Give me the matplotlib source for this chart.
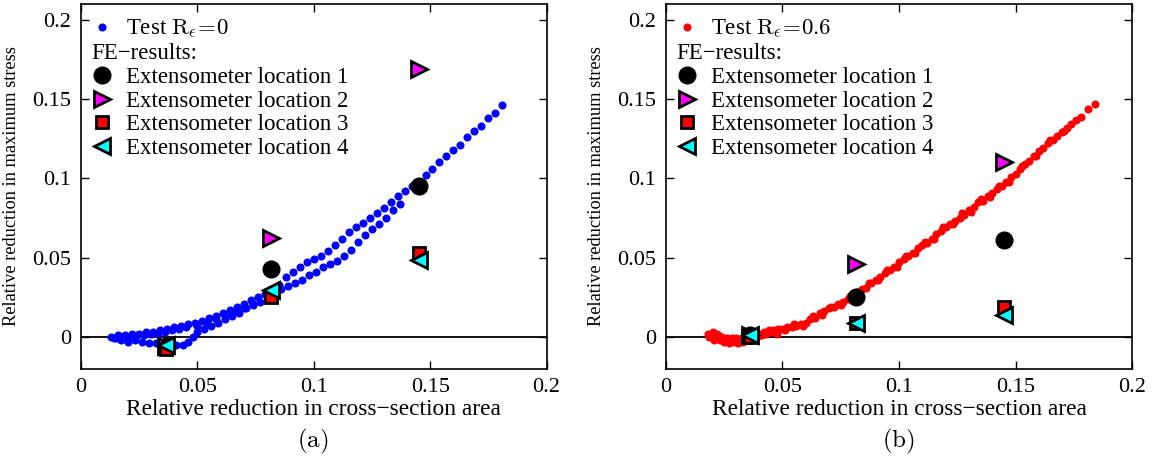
import numpy as np
import matplotlib.pyplot as plt
from matplotlib.lines import Line2D

plt.rcParams['font.family'] = ['Liberation Serif', 'DejaVu Serif']
plt.rcParams['mathtext.fontset'] = 'cm'
plt.rcParams['font.size'] = 16

# ---- test data, panel (a): R_eps = 0 (loop, two branches + dense start) ----
a_upper_x = [0.013, 0.016, 0.019, 0.022, 0.025, 0.028, 0.031, 0.034, 0.037, 0.040,
             0.043, 0.046, 0.049, 0.052, 0.055, 0.058, 0.061, 0.064, 0.067, 0.070,
             0.073, 0.076, 0.079, 0.082, 0.085, 0.088, 0.091, 0.094, 0.097, 0.100,
             0.103, 0.106, 0.109, 0.112, 0.115, 0.118, 0.121, 0.124, 0.127, 0.130,
             0.133, 0.136, 0.139, 0.142, 0.145, 0.148, 0.151, 0.154, 0.157, 0.160,
             0.163, 0.166, 0.169, 0.172, 0.175, 0.178, 0.181]
a_upper_y = [0.000, 0.001, 0.001, 0.002, 0.002, 0.003, 0.003, 0.004, 0.005, 0.006,
             0.007, 0.008, 0.009, 0.010, 0.012, 0.013, 0.015, 0.017, 0.019, 0.021,
             0.023, 0.025, 0.027, 0.030, 0.033, 0.038, 0.041, 0.044, 0.047, 0.049,
             0.051, 0.054, 0.058, 0.062, 0.066, 0.069, 0.072, 0.075, 0.078, 0.081,
             0.085, 0.089, 0.092, 0.095, 0.098, 0.102, 0.106, 0.110, 0.114, 0.118,
             0.121, 0.126, 0.130, 0.133, 0.138, 0.141, 0.146]
a_lower_x = [0.014, 0.017, 0.020, 0.023, 0.026, 0.029, 0.032, 0.035, 0.038, 0.041,
             0.044, 0.046, 0.048, 0.050, 0.053, 0.056, 0.059, 0.062, 0.065, 0.068,
             0.071, 0.074, 0.077, 0.080, 0.083, 0.086, 0.089, 0.092, 0.095, 0.098,
             0.101, 0.104, 0.107, 0.110, 0.113, 0.116, 0.119, 0.122, 0.125, 0.128,
             0.131, 0.134, 0.137]
a_lower_y = [-0.001, -0.002, -0.003, -0.002, -0.003, -0.004, -0.004, -0.005, -0.005, -0.005,
             -0.005, -0.003, 0.000, 0.003, 0.005, 0.007, 0.009, 0.011, 0.013, 0.015,
             0.018, 0.020, 0.022, 0.025, 0.027, 0.030, 0.032, 0.034, 0.036, 0.039,
             0.041, 0.044, 0.046, 0.048, 0.051, 0.055, 0.060, 0.064, 0.068, 0.071,
             0.075, 0.080, 0.084]
a_mid_x = [0.015, 0.018, 0.021, 0.024, 0.027, 0.030, 0.033, 0.036, 0.039, 0.042,
           0.045, 0.050, 0.054, 0.058, 0.062, 0.066, 0.070, 0.074]
a_mid_y = [-0.001, 0.000, 0.000, 0.001, 0.001, 0.002, 0.002, 0.003, 0.004, 0.005,
           0.006, 0.007, 0.009, 0.011, 0.013, 0.016, 0.018, 0.021]

# ---- test data, panel (b): R_eps = 0.6 ----
b_x = [0.018, 0.019, 0.020, 0.021, 0.022, 0.023, 0.024, 0.025, 0.026, 0.027,
       0.028, 0.029, 0.030, 0.031, 0.032, 0.033, 0.034, 0.035, 0.036, 0.037,
       0.038, 0.039, 0.040, 0.041, 0.042, 0.043, 0.044, 0.045, 0.046, 0.047,
       0.048, 0.050, 0.052, 0.054, 0.056, 0.058, 0.060, 0.062, 0.064, 0.066,
       0.068, 0.070, 0.072, 0.074, 0.076, 0.078, 0.080, 0.082, 0.084, 0.086,
       0.088, 0.090, 0.092, 0.094, 0.096, 0.098, 0.100, 0.102, 0.104, 0.106,
       0.108, 0.110, 0.112, 0.114, 0.116, 0.118, 0.120, 0.122, 0.124, 0.126,
       0.128, 0.130, 0.132, 0.134, 0.136, 0.138, 0.140, 0.142, 0.144, 0.146,
       0.148, 0.150, 0.152, 0.154, 0.156, 0.158, 0.160, 0.162, 0.164, 0.166,
       0.168, 0.170, 0.172, 0.174, 0.176, 0.178, 0.181, 0.184]
b_y = [0.002, 0.001, 0.003, -0.001, 0.002, -0.002, 0.000, -0.003, -0.001, -0.004,
       -0.002, -0.003, -0.001, -0.004, -0.002, -0.003, 0.000, -0.002, 0.001, -0.001,
       0.002, 0.000, 0.002, 0.001, 0.003, 0.002, 0.004, 0.003, 0.004, 0.003,
       0.005, 0.005, 0.006, 0.006, 0.007, 0.008, 0.009, 0.011, 0.012, 0.015,
       0.016, 0.018, 0.019, 0.021, 0.022, 0.024, 0.026, 0.028, 0.030, 0.031,
       0.034, 0.036, 0.038, 0.040, 0.042, 0.044, 0.047, 0.049, 0.051, 0.053,
       0.056, 0.058, 0.059, 0.062, 0.065, 0.067, 0.069, 0.071, 0.073, 0.075,
       0.077, 0.080, 0.082, 0.085, 0.086, 0.089, 0.091, 0.093, 0.095, 0.098,
       0.101, 0.103, 0.106, 0.109, 0.111, 0.114, 0.117, 0.119, 0.122, 0.124,
       0.127, 0.129, 0.132, 0.134, 0.137, 0.139, 0.144, 0.147]
b2_x = [0.0185, 0.0205, 0.0225, 0.0245, 0.0265, 0.0285, 0.0305, 0.0325, 0.0345, 0.0395,
        0.0435, 0.0475, 0.051, 0.055, 0.059, 0.063, 0.067, 0.071, 0.075, 0.079,
        0.083, 0.087, 0.091, 0.095, 0.099, 0.103, 0.107, 0.111, 0.115, 0.119,
        0.123, 0.127, 0.131, 0.135, 0.139, 0.143, 0.147, 0.153, 0.159, 0.165,
        0.171]
b2_y = [0.000, -0.002, 0.001, -0.002, -0.003, -0.001, -0.003, -0.001, -0.002, 0.001,
        0.003, 0.002, 0.004, 0.008, 0.007, 0.013, 0.014, 0.019, 0.020, 0.026,
        0.028, 0.034, 0.036, 0.042, 0.044, 0.051, 0.053, 0.060, 0.062, 0.069,
        0.071, 0.078, 0.079, 0.087, 0.088, 0.095, 0.098, 0.108, 0.114, 0.124,
        0.130]

# ---- FE results (three extensometer readings per location) ----
fe_x_a = [0.0365, 0.0815, 0.1452]
loc1_a = [-0.006, 0.0427, 0.0954]
loc2_a = [-0.006, 0.0622, 0.1688]
loc3_a = [-0.008, 0.0254, 0.0528]
loc4_a = [-0.005, 0.0296, 0.0486]

fe_x_b = [0.036, 0.0815, 0.1450]
loc1_b = [0.001, 0.0254, 0.0612]
loc2_b = [0.001, 0.0458, 0.1100]
loc3_b = [0.000, 0.0090, 0.0191]
loc4_b = [0.0013, 0.0086, 0.0135]

ticks = [0, 0.05, 0.1, 0.15, 0.2]
tick_labels = ['0', '0.05', '0.1', '0.15', '0.2']


def draw_panel(ax, tx_list, ty_list, color, test_label, fe_x, fe_locs):
    ax.axhline(0, color='k', lw=1.3, zorder=1)
    h_test = None
    for tx, ty in zip(tx_list, ty_list):
        h_test, = ax.plot(tx, ty, 'o', color=color, ms=5.8, mec='none', zorder=2)
    l1, = ax.plot(fe_x, fe_locs[0], 'o', color='k', ms=12, mec='k', zorder=3)
    l2, = ax.plot(fe_x, fe_locs[1], '>', color='#ff00ff', ms=11, mec='k', mew=2, zorder=3)
    l3, = ax.plot(fe_x, fe_locs[2], 's', color='#ff0000', ms=8.5, mec='k', mew=2, zorder=3)
    l4, = ax.plot(fe_x, fe_locs[3], '<', color='#00ffff', ms=11, mec='k', mew=2, zorder=3)

    header = Line2D([], [], linestyle='none')
    leg = ax.legend([h_test, header, l1, l2, l3, l4],
                    [test_label, 'FE\u2212results:', 'Extensometer location 1',
                     'Extensometer location 2', 'Extensometer location 3',
                     'Extensometer location 4'],
                    loc='upper left', bbox_to_anchor=(0.024, 0.962), frameon=False,
                    borderpad=0, borderaxespad=0, handlelength=0.85,
                    handletextpad=0.63, labelspacing=0.12, numpoints=1, fontsize=16.5)
    # header line starts where the markers start
    leg.get_texts()[1].set_x(-35)

    ax.set_xlim(0, 0.2)
    ax.set_ylim(-0.02, 0.21)
    ax.set_xticks(ticks)
    ax.set_xticklabels(tick_labels)
    ax.set_yticks(ticks)
    ax.set_yticklabels(tick_labels)
    ax.tick_params(direction='in', top=True, right=True, length=6, width=1,
                   labelsize=16, pad=7)
    for s in ax.spines.values():
        s.set_linewidth(1.2)
    ax.set_xlabel('Relative reduction in cross\u2212section area', fontsize=16.8, labelpad=1)
    ax.set_ylabel('Relative reduction in maximum stress', fontsize=13.2, labelpad=9)


fig = plt.figure(figsize=(11.53, 4.67), dpi=100)
ax_a = fig.add_axes([0.0703, 0.2109, 0.4037, 0.7805])
ax_b = fig.add_axes([0.5776, 0.2109, 0.4042, 0.7805])

draw_panel(ax_a, [a_mid_x, a_upper_x, a_lower_x], [a_mid_y, a_upper_y, a_lower_y], '#0000ff',
           r'Test $\mathrm{R}_\epsilon\!=\!0$', fe_x_a, [loc1_a, loc2_a, loc3_a, loc4_a])
draw_panel(ax_b, [b2_x, b_x], [b2_y, b_y], '#ff0000',
           r'Test $\mathrm{R}_\epsilon\!=\!0.6$', fe_x_b, [loc1_b, loc2_b, loc3_b, loc4_b])

fig.text(313 / 1153, 1 - 441 / 467, r'$\mathrm{(a)}$', ha='center', va='center', fontsize=18)
fig.text(898 / 1153, 1 - 441 / 467, r'$\mathrm{(b)}$', ha='center', va='center', fontsize=18)

fig.savefig('out.png', dpi=100)
